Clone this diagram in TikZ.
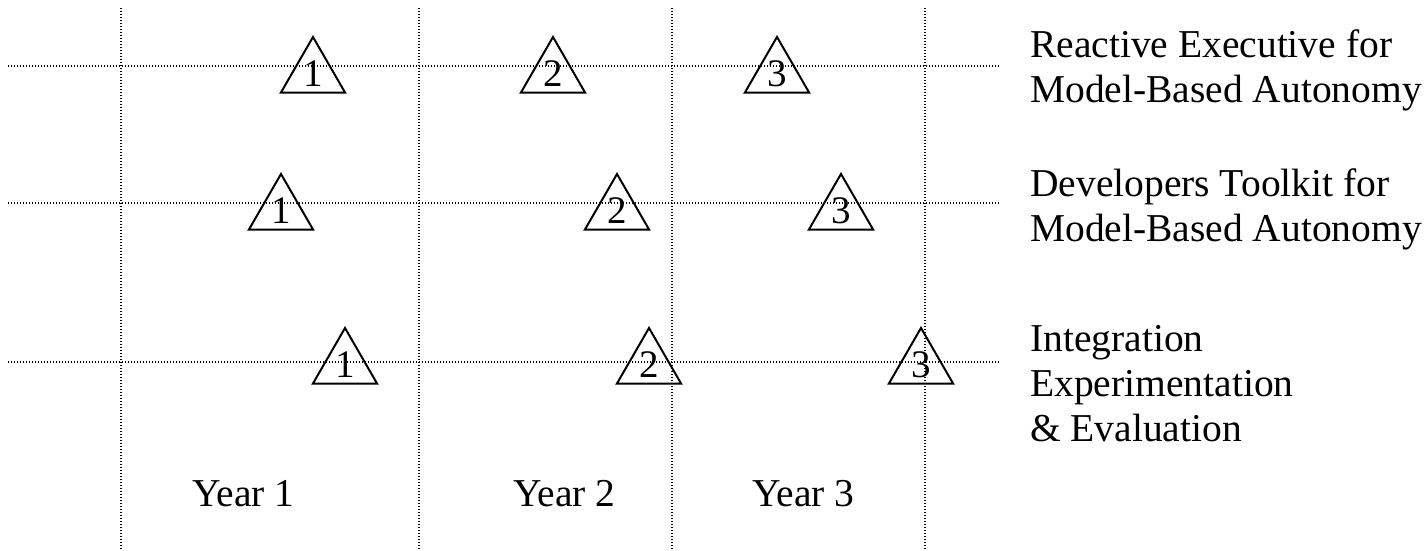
\documentclass[tikz,border=0pt]{standalone}
\usepackage{fontspec}
\setmainfont{Liberation Serif}
\usetikzlibrary{shapes.geometric,positioning}

\begin{document}
\begin{tikzpicture}[x=1pt,y=-1pt,
    dotline/.style={line width=1.3pt, dash pattern=on 1.3pt off 1.7pt},
    mile/.style={draw, line width=2pt, regular polygon, regular polygon sides=3,
      minimum size=74pt, inner sep=0pt, font=\fontsize{39}{45}\selectfont},
    lbl/.style={font=\fontsize{39.5}{45}\selectfont, inner sep=0pt, align=left}
  ]
    \useasboundingbox (0,0) rectangle (1424,551);

    % year columns
    \coordinate (c0t) at (121,8);   \coordinate (c0b) at (121,551);
    \coordinate (c1t) at (419,8);   \coordinate (c1b) at (419,551);
    \coordinate (c2t) at (672,8);   \coordinate (c2b) at (672,551);
    \coordinate (c3t) at (925,8);   \coordinate (c3b) at (925,551);
    \draw[dotline] (c0t) -- (c0b);
    \draw[dotline] (c1t) -- (c1b);
    \draw[dotline] (c2t) -- (c2b);
    \draw[dotline] (c3t) -- (c3b);

    % task rows
    \coordinate (r1l) at (8,66);    \coordinate (r1r) at (1000,66);
    \coordinate (r2l) at (8,203);   \coordinate (r2r) at (1000,203);
    \coordinate (r3l) at (8,362);   \coordinate (r3r) at (1000,362);
    \draw[dotline] (r1l) -- (r1r);
    \draw[dotline] (r2l) -- (r2r);
    \draw[dotline] (r3l) -- (r3r);

    % milestones
    \node[mile] (exec1) at (313,74) {1};
    \node[mile] (exec2) at (553,74) {2};
    \node[mile] (exec3) at (777,74) {3};
    \node[mile] (tool1) at (281,211) {1};
    \node[mile] (tool2) at (617,211) {2};
    \node[mile] (tool3) at (841,211) {3};
    \node[mile] (integ1) at (345,365) {1};
    \node[mile] (integ2) at (649,365) {2};
    \node[mile] (integ3) at (921,365) {3};

    % labels
    \node[lbl, anchor=base west] (y1) at (192,506) {Year 1};
    \node[lbl, anchor=base west] (y2) at (513,506) {Year 2};
    \node[lbl, anchor=base west] (y3) at (752,506) {Year 3};

    \node[lbl, anchor=north west] (exec) at (1030,29) {Reactive Executive for\\Model-Based Autonomy};
    \node[lbl, anchor=north west] (tool) at (1030,168) {Developers Toolkit for\\Model-Based Autonomy};
    \node[lbl, anchor=north west] (integ) at (1030,325) {Integration\\Experimentation\\\& Evaluation};
  \end{tikzpicture}
\end{document}
